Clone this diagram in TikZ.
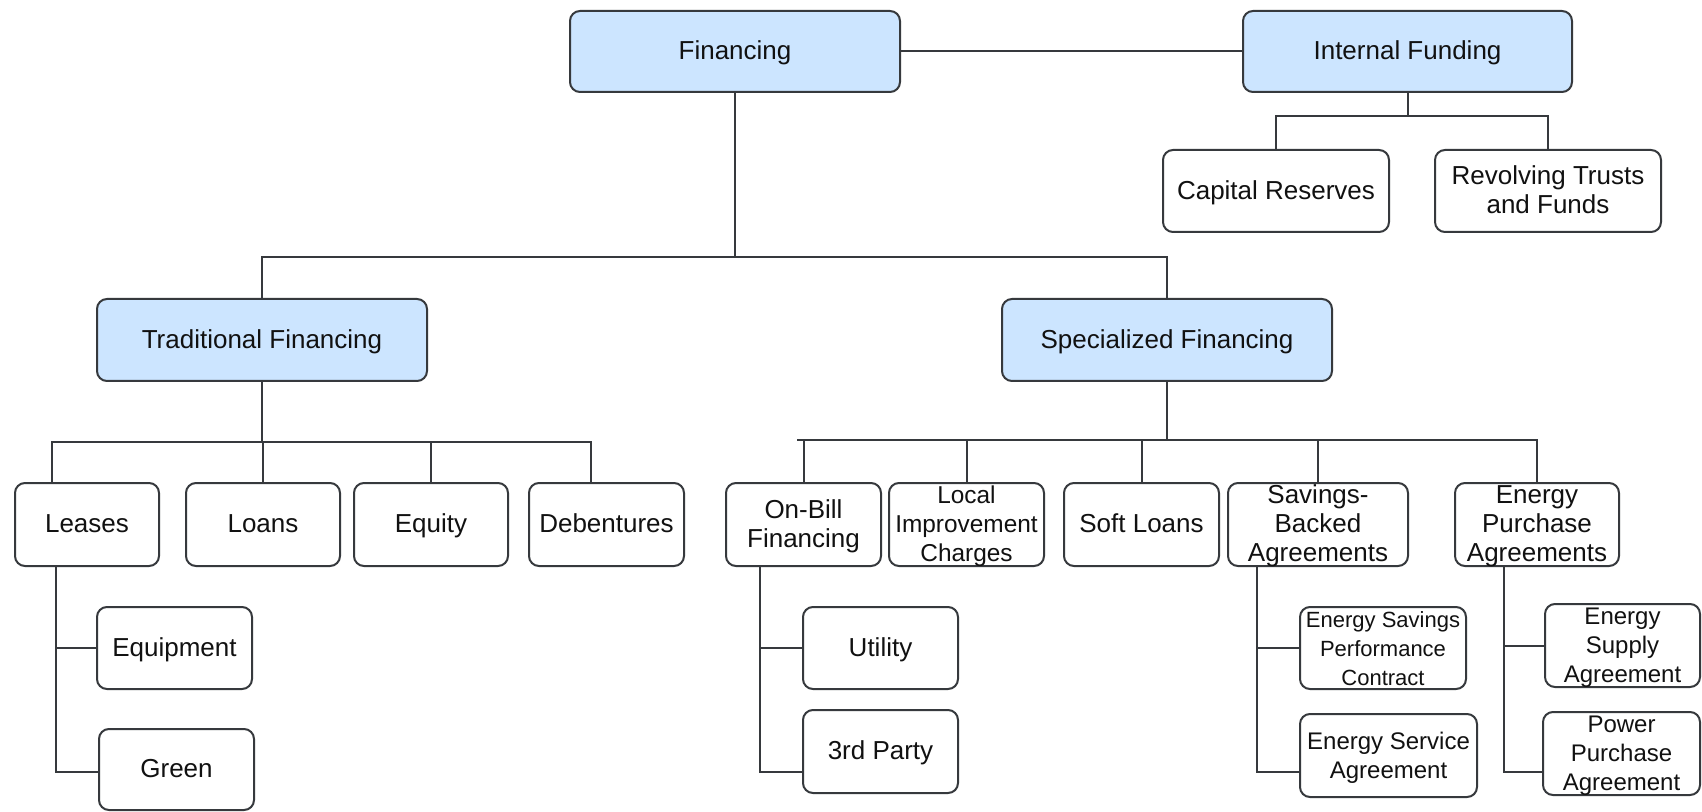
\documentclass[tikz,border=0pt]{standalone}
\usepackage{fontspec}
\setmainfont{Liberation Sans}
\usetikzlibrary{calc}
\definecolor{bluefill}{HTML}{CCE5FF}
\definecolor{edgec}{HTML}{36393D}
\definecolor{txtc}{HTML}{111111}
\newcommand\boxtext[1]{\raisebox{-8.3pt}{\smash{$\vcenter{\hbox{\begin{tabular}{@{}c@{}}#1\end{tabular}}}$}}}
\tikzset{
  basebox/.style={draw=edgec, line width=1pt, rounded corners=5pt, inner sep=0pt, text=txtc, font=\fontsize{13}{14.5}\selectfont},
  hdr/.style={basebox, fill=bluefill},
  leaf/.style={basebox, fill=white},
  sz/.style 2 args={minimum width={0.5pt*#1}, minimum height={0.5pt*#2}},
  conn/.style={draw=edgec, line width=1pt},
  smallfont/.style={font=\fontsize{#1}{14.5}\selectfont}
}
\begin{document}
\begin{tikzpicture}[x=0.5pt, y=-0.5pt]
\useasboundingbox (0,0) rectangle (1702,812);
\fill[white] (0,0) rectangle (1702,812);

% level 0
\node[hdr, sz={330}{81}] (fin) at (735,51.5) {\boxtext{Financing}};
\node[hdr, sz={329}{81}] (intf) at (1407.5,51.5) {\boxtext{Internal Funding}};
\node[leaf, sz={226}{82}] (cap) at (1276,191) {\boxtext{Capital Reserves}};
\node[leaf, sz={226}{82}] (rev) at (1548,191) {\boxtext{Revolving Trusts\\and Funds}};

% level 1
\node[hdr, sz={330}{82}] (trad) at (262,340) {\boxtext{Traditional Financing}};
\node[hdr, sz={330}{82}] (spec) at (1167,340) {\boxtext{Specialized Financing}};

% level 2
\node[leaf, sz={144}{83}] (leases) at (87,524.5) {\boxtext{Leases}};
\node[leaf, sz={154}{83}] (loans) at (263,524.5) {\boxtext{Loans}};
\node[leaf, sz={154}{83}] (equity) at (431,524.5) {\boxtext{Equity}};
\node[leaf, sz={155}{83}] (deb) at (606.5,524.5) {\boxtext{Debentures}};
\node[leaf, sz={155}{83}] (onbill) at (803.5,524.5) {\boxtext{On-Bill\\Financing}};
\node[leaf, sz={155}{83}, smallfont=12.2] (local) at (966.5,524.5) {\boxtext{Local\\Improvement\\Charges}};
\node[leaf, sz={155}{83}] (soft) at (1141.5,524.5) {\boxtext{Soft Loans}};
\node[leaf, sz={180}{83}] (sav) at (1318,524.5) {\boxtext{Savings-\\Backed\\Agreements}};
\node[leaf, sz={164}{83}] (epa) at (1537,524.5) {\boxtext{Energy\\Purchase\\Agreements}};

% level 3
\node[leaf, sz={155}{82}] (equip) at (174.5,648) {\boxtext{Equipment}};
\node[leaf, sz={155}{81}] (green) at (176.5,769.5) {\boxtext{Green}};
\node[leaf, sz={155}{82}] (utility) at (880.5,648) {\boxtext{Utility}};
\node[leaf, sz={155}{83}] (third) at (880.5,751.5) {\boxtext{3rd Party}};
\node[leaf, sz={166}{82}, smallfont=11] (espc) at (1383,648) {\boxtext{Energy Savings\\Performance\\Contract}};
\node[leaf, sz={177}{83}, smallfont=12] (esa) at (1388.5,755.5) {\boxtext{Energy Service\\Agreement}};
\node[leaf, sz={155}{83}, smallfont=12] (esup) at (1622.5,645.5) {\boxtext{Energy\\Supply\\Agreement}};
\node[leaf, sz={157}{83}, smallfont=12] (ppa) at (1621.5,753.5) {\boxtext{Power\\Purchase\\Agreement}};

% connectors: top
\draw[conn] (fin) -- (intf);
\coordinate (j1) at (1408,116);
\draw[conn] (intf.south) -- (intf.south |- j1);
\draw[conn] (cap.north) -- (cap.north |- j1) -- (rev.north |- j1) -- (rev.north);
\coordinate (j2) at (735,257);
\draw[conn] (fin.south) -- (fin.south |- j2);
\draw[conn] (trad.north) -- (trad.north |- j2) -- (spec.north |- j2) -- (spec.north);

% traditional
\coordinate (dl) at (52,442);
\coordinate (dd) at (591,442);
\draw[conn] (trad.south) -- (trad.south |- dl);
\draw[conn] (dl |- leases.north) -- (dl) -- (dd) -- (dd |- deb.north);
\draw[conn] (loans.north) -- (loans.north |- dl);
\draw[conn] (equity.north) -- (equity.north |- dl);

% specialized
\coordinate (sl) at (797,440);
\coordinate (sr) at (1537,440);
\draw[conn] (spec.south) -- (spec.south |- sl);
\draw[conn] (sl) -- (sr) -- (epa.north);
\draw[conn] (onbill.north) -- (onbill.north |- sl);
\draw[conn] (local.north) -- (local.north |- sl);
\draw[conn] (soft.north) -- (soft.north |- sl);
\draw[conn] (sav.north) -- (sav.north |- sl);

% children
\coordinate (v1) at (56,772);
\draw[conn] (v1 |- leases.south) -- (v1) -- (green.west |- v1);
\draw[conn] (equip.west) -- (equip.west -| v1);
\coordinate (v2) at (760,772);
\draw[conn] (v2 |- onbill.south) -- (v2) -- (third.west |- v2);
\draw[conn] (utility.west) -- (utility.west -| v2);
\coordinate (v3) at (1257,772);
\draw[conn] (v3 |- sav.south) -- (v3) -- (esa.west |- v3);
\draw[conn] (espc.west) -- (espc.west -| v3);
\coordinate (v4) at (1504,772);
\draw[conn] (v4 |- epa.south) -- (v4) -- (ppa.west |- v4);
\draw[conn] (esup.west) -- (esup.west -| v4);
\end{tikzpicture}
\end{document}
